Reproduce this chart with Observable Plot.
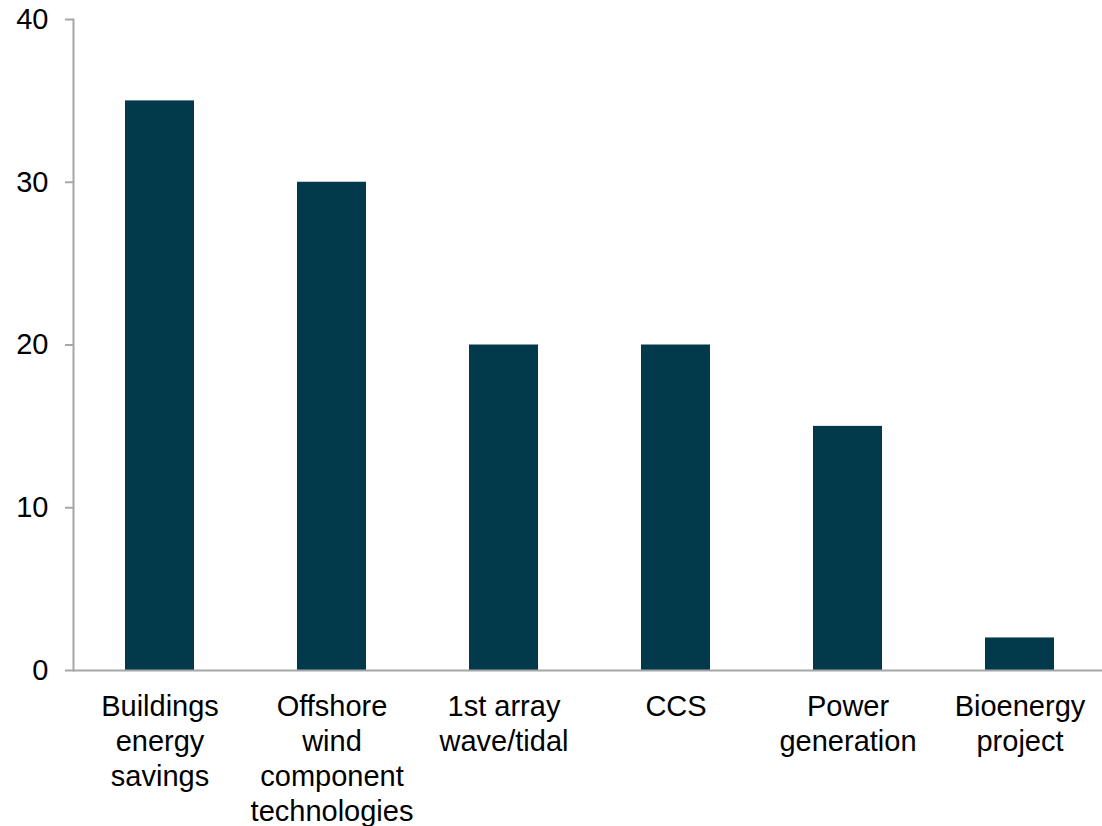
<!DOCTYPE html>
<html>
<head>
<meta charset="utf-8">
<script src="https://cdn.jsdelivr.net/npm/d3@7"></script>
<script src="https://cdn.jsdelivr.net/npm/@observablehq/plot@0.6"></script>
<style>
  html, body { margin: 0; padding: 0; background: #fff; }
  svg { font-family: "Liberation Sans", Arial, sans-serif; }
</style>
</head>
<body>
<div id="chart"></div>
<script>
const categories = [
  "Buildings\nenergy\nsavings",
  "Offshore\nwind\ncomponent\ntechnologies",
  "1st array\nwave/tidal",
  "CCS",
  "Power\ngeneration",
  "Bioenergy\nproject"
];
const values = [35, 30, 20, 20, 15, 2];
const yTicks = [0, 10, 20, 30, 40];

const data = categories.map((c, i) => ({category: c, value: values[i]}));

const chart = Plot.plot({
  width: 1102,
  height: 826,
  marginLeft: 73,
  marginRight: 0,
  marginTop: 19,
  marginBottom: 156,
  style: {fontFamily: '"Liberation Sans", Arial, sans-serif', fontSize: "29px", color: "#000", background: "#fff"},
  x: {domain: categories, range: [73, 1105], paddingInner: 0.6, paddingOuter: 0.3, label: null},
  y: {domain: [0, 40], label: null},
  marks: [
    Plot.barY(data, {x: "category", y: "value", fill: "#023a4b"}),
    Plot.frame({anchor: "left", stroke: "#a6a6a6", strokeWidth: 2}),
    Plot.ruleY([0], {stroke: "#a6a6a6", strokeWidth: 2}),
    Plot.axisY({ticks: yTicks, tickSize: 8, tickPadding: 17, stroke: "#a6a6a6", strokeWidth: 2, fontSize: 29, fill: "#000", label: null}),
    Plot.axisX({tickSize: 0, tickPadding: 21, fontSize: 29, lineHeight: 1.2, fill: "#000", label: null})
  ]
});
document.getElementById("chart").appendChild(chart);
</script>
</body>
</html>
